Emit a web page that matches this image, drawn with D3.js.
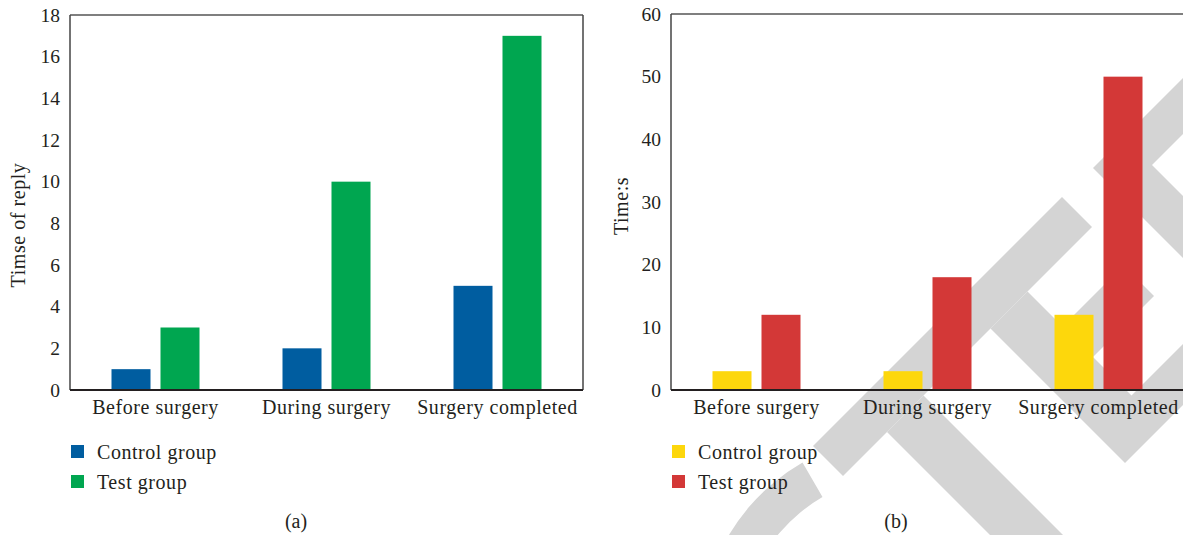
<!DOCTYPE html>
<html><head><meta charset="utf-8">
<script src="https://cdn.jsdelivr.net/npm/d3@7"></script>
<style>
body{margin:0;background:#fff}
svg{display:block}
text{font-family:"Liberation Serif","Times New Roman",serif;fill:#231f20}
</style>
</head><body>
<svg id="c" width="1183" height="535"></svg>
<script>
// ---- data ----
const categories = ["Before surgery", "During surgery", "Surgery completed"];
const seriesNames = ["Control group", "Test group"];
const repliesControl = [1, 2, 5];
const repliesTest = [3, 10, 17];
const timeControl = [3, 3, 12];
const timeTest = [12, 18, 50];
const ticksA = [0, 2, 4, 6, 8, 10, 12, 14, 16, 18];
const ticksB = [0, 10, 20, 30, 40, 50, 60];
const titleA = "Timse of reply";
const titleB = "Time:s";

const svg = d3.select("#c");

// ---- watermark (decorative background) ----
const wm = svg.append("g").attr("fill", "#d4d4d4");
const polys = [
  [[813,446],[1062,197],[1092,227],[843,476]],
  [[887,432],[923.5,395.5],[1068,540],[995,540]],
  [[990.5,328.5],[1027.5,291.5],[1131.5,395.5],[1200,327],[1200,388],[1125,463]],
  [[1062.5,326.5],[1123.5,265.5],[1154,296],[1093,357]],
  [[1093,168],[1200,61],[1200,117],[1152,165],[1200,213],[1200,275]]
];
polys.forEach(p => wm.append("path").attr("d", d3.line()(p) + "Z"));
wm.append("path")
  .attr("transform", "translate(905,640)")
  .attr("d", d3.arc()({innerRadius: 165, outerRadius: 205, startAngle: -Math.PI/2 - 0.3, endAngle: -Math.PI/6}));

const LS = 0.55; // letter spacing to approximate the wider original serif

function drawPanel(o) {
  const g = svg.append("g");
  const x0 = d3.scaleBand().domain(categories).range([o.left, o.right]).paddingInner(0).paddingOuter(0);
  const x1 = d3.scaleBand().domain(seriesNames).range([0, x0.bandwidth()]).paddingInner(0.204).paddingOuter(0.847);
  const y = d3.scaleLinear().domain([0, o.yMax]).range([o.bottom, o.top]);
  const color = d3.scaleOrdinal().domain(seriesNames).range(o.colors);

  const rows = categories.map((c, i) => ({c, vals: [{s: seriesNames[0], v: o.a[i]}, {s: seriesNames[1], v: o.b[i]}]}));
  g.selectAll("g.grp").data(rows).join("g").attr("class", "grp")
    .attr("transform", d => `translate(${x0(d.c)},0)`)
    .selectAll("rect").data(d => d.vals).join("rect")
    .attr("x", d => x1(d.s)).attr("width", x1.bandwidth())
    .attr("y", d => y(d.v)).attr("height", d => y(0) - y(d.v))
    .attr("fill", d => color(d.s));

  // frame
  g.append("line").attr("x1", o.left).attr("x2", o.right).attr("y1", o.top).attr("y2", o.top)
    .attr("stroke", "#555").attr("stroke-width", 1.5);
  g.append("line").attr("x1", o.left).attr("x2", o.left).attr("y1", o.top).attr("y2", o.bottom)
    .attr("stroke", "#444").attr("stroke-width", 1.5);
  g.append("line").attr("x1", o.right).attr("x2", o.right).attr("y1", o.top).attr("y2", o.bottom)
    .attr("stroke", "#444").attr("stroke-width", 1.5);
  g.append("line").attr("x1", o.left).attr("x2", o.right).attr("y1", o.bottom).attr("y2", o.bottom)
    .attr("stroke", "#231f20").attr("stroke-width", 2);

  const ya = g.append("g").attr("transform", `translate(${o.left},0)`)
    .call(d3.axisLeft(y).tickValues(o.ticks).tickSize(0).tickPadding(10));
  ya.select(".domain").remove();
  ya.attr("font-family", null);
  ya.selectAll("text").attr("font-size", 19.5).attr("fill", null);

  const xa = g.append("g").attr("transform", `translate(0,${o.bottom})`)
    .call(d3.axisBottom(x0).tickSize(0).tickPadding(10));
  xa.select(".domain").remove();
  xa.attr("font-family", null);
  xa.selectAll("text").attr("font-size", 20).attr("letter-spacing", LS).attr("fill", null);

  g.append("text").attr("transform", `translate(${o.titleX},${o.titleY}) rotate(-90)`)
    .attr("text-anchor", "middle").attr("dy", "0.35em").attr("font-size", 20)
    .attr("letter-spacing", LS).text(o.title);

  const lg = g.selectAll("g.leg").data(seriesNames).join("g").attr("class", "leg")
    .attr("transform", (d, i) => `translate(${o.left + 1},${445 + i * 30})`);
  lg.append("rect").attr("width", 13).attr("height", 13).attr("fill", d => color(d));
  lg.append("text").attr("x", 26).attr("y", 6.5).attr("dy", "0.35em").attr("font-size", 20)
    .attr("letter-spacing", LS).text(d => d);

  g.append("text").attr("x", o.labelX).attr("y", 521).attr("dy", "0.35em")
    .attr("text-anchor", "middle").attr("font-size", 20).text(o.label);
}

drawPanel({left: 70, right: 583, top: 15, bottom: 390, yMax: 18, ticks: ticksA,
  a: repliesControl, b: repliesTest, colors: ["#005da0", "#00a650"],
  title: titleA, titleX: 18, titleY: 225, label: "(a)", labelX: 296});
drawPanel({left: 671, right: 1184, top: 14, bottom: 390, yMax: 60, ticks: ticksB,
  a: timeControl, b: timeTest, colors: ["#fdd70c", "#d33837"],
  title: titleB, titleX: 621, titleY: 206, label: "(b)", labelX: 896});
</script>
</body></html>
